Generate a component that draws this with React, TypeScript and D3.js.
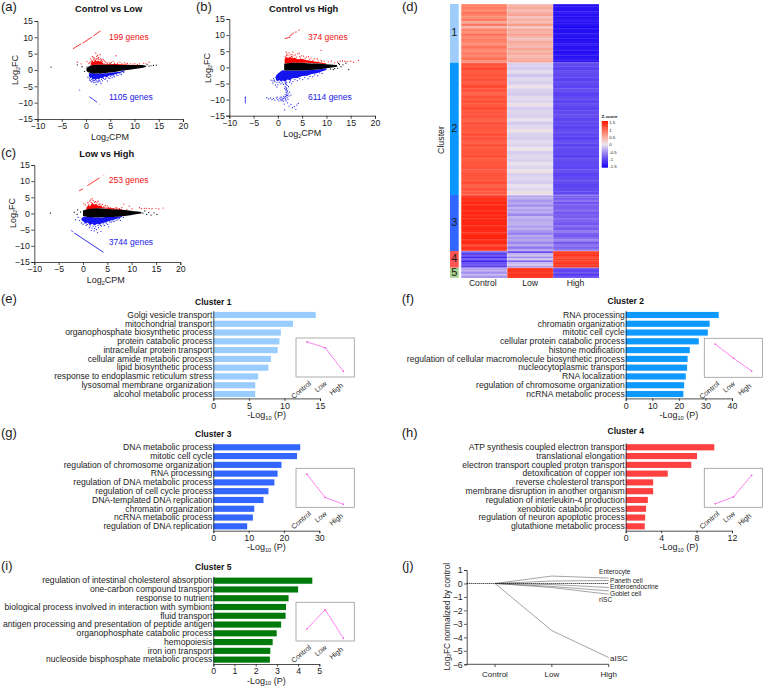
import React, { useEffect, useRef } from "react";
import * as d3 from "d3";

type P = number[];
const FONT = "'Liberation Sans', Arial, sans-serif";

// ---------- MA plots (a, b, c): each band row is [log2CPM, low FC, high FC]
const maBlackA: P[] = [[0.1,-0.3,0.5],[0.5,-0.7,1],[1,-1,1.4],[2,-1.1,1.6],[4,-0.9,1.6],[6,-0.6,1.6],[8,-0.1,1.5],[10,0.3,1.5],[11.5,0.6,1.5],[12.3,0.9,1.3]];
const maBlueA: P[] = [[0.6,-0.9,-1.8],[0.9,-1,-2.6],[1.1,-1,-2.2],[1.4,-1,-3],[1.7,-1,-2.7],[2,-1.1,-3.1],[2.3,-1.1,-2.6],[2.6,-1.1,-2.9],[3,-1.1,-2.4],[3.4,-1.1,-2.5],[3.8,-1,-2],[4.3,-1,-2.2],[4.8,-0.9,-1.7],[5.4,-0.8,-1.7],[6,-0.7,-1.3],[7,-0.5,-0.9],[8,-0.1,-0.4]];
const maRedA: P[] = [[1,1.3,2],[1.3,1.5,2.8],[1.6,1.5,2.4],[1.9,1.6,3.1],[2.2,1.6,2.6],[2.5,1.6,3],[2.8,1.6,2.5],[3.1,1.6,2.8],[3.5,1.6,2],[4.5,1.6,1.8],[6,1.5,1.8],[9,1.4,1.6]];
const redDotsA: P[] = [[-1.8,2.4],[-1,1.9],[0.2,2.6],[1,3.4],[1.3,4.1],[1.8,3.6],[2,5.2],[2.2,4.2],[2.6,3.8],[2.9,4.7],[3,3.4],[2.5,3.6],[3.8,2.7],[4.4,2.1],[5.2,2.3],[6.2,4.4],[6.5,2.1],[7.4,1.9],[7.9,2.2],[8.5,2],[9.2,1.9],[10.1,1.9],[11,1.9],[11.9,2.1],[12.4,1.9],[13,2.4],[0.8,2.4],[1.6,3.3],[3.4,2.5],[1.2,2.9],[2.3,3.5],[3.2,2.9],[5.6,2.6],[4.8,2.2],[0.6,2],[1.5,3.9],[2.7,3.2],[3.6,3.1],[4.1,2.4],[1.1,2.5],[2.1,3.3],[3.3,3.3],[5,2],[5.9,2],[7,2.4],[8.2,1.8],[9.7,1.8],[10.6,1.7],[2.4,4.5],[1.7,2.9]];
const blueDotsA: P[] = [[0.4,-2.2],[0.8,-3.1],[1.1,-3.6],[1.6,-3.9],[2.1,-4.5],[2.3,-3.7],[2.9,-3.6],[3.4,-3.3],[3.9,-2.9],[4.4,-3.4],[4.9,-2.6],[5.4,-2.3],[5.9,-2.1],[6.6,-1.7],[7.3,-1.4],[1.4,-3.4],[2.6,-3.3],[0.7,-2.7],[3.1,-4.2],[1.9,-3.7],[1.2,-2.9],[1.5,-3.2],[2.2,-3.3],[2.8,-3.1],[3.2,-2.8],[3.6,-2.6],[4.1,-2.5],[4.6,-2.4],[5.1,-2],[0.9,-3.3],[1.8,-3.2],[2.5,-3.6],[5.7,-1.8],[6.3,-1.5],[7,-1.2],[7.8,-0.8]];
const blackDotsA: P[] = [[-7.2,0.9],[-1.8,1.6],[-0.8,1],[-0.3,-0.4],[0.2,0.9],[12.6,1.6],[13,1.2],[13.4,1.3],[13.9,1.4],[14.5,1.5],[12.2,1.1]];
const redLineA: P[][] = [[[-2.7,6.5],[-1,8]],[[-0.7,8.2],[1.2,10.1]],[[1.5,10.4],[3,12]]];
const blueLineA: P[][] = [[[0.7,-8.2],[1.4,-8.9]],[[1.5,-9],[2.3,-9.9]],[[2.7,-10.4],[2.8,-10.5]],[[-1.4,-6.1],[-1.2,-6.3]]];

const maBlackB: P[] = [[1.3,-0.9,1.1],[2,-1,1.3],[4,-1,1.4],[6,-0.9,1.3],[8,-0.7,1.2],[10,-0.3,1],[11.5,0,0.8],[12.2,0.2,0.6]];
const maBlueB: P[] = [[-0.4,-2.6,-3.9],[0,-1.9,-4.3],[0.3,-1.6,-3.9],[0.7,-1.1,-4.5],[1,-0.9,-4.1],[1.5,-1,-4.4],[2,-1,-3.8],[2.5,-1,-4],[3,-1,-3.4],[4,-1,-3.3],[5,-1,-2.7],[6,-0.9,-2.6],[7,-0.8,-2.1],[8,-0.7,-1.8],[9,-0.5,-1.3],[10,-0.3,-0.8]];
const maRedB: P[] = [[1.4,1.1,2.6],[1.7,1.2,3.3],[2.1,1.3,2.9],[2.5,1.3,3.3],[3,1.4,2.8],[3.5,1.4,3],[4,1.4,2.5],[5,1.4,2.6],[6,1.4,2.2],[7,1.3,2],[8.5,1.2,1.6],[10,1,1.2]];
const redDotsB: P[] = [[1.7,4.8],[1.9,4.2],[2.3,4.5],[2.9,4],[3.1,4.8],[3.6,3.9],[4.1,4.2],[4.4,4.4],[4.9,3.6],[5.3,3.5],[5.9,3.2],[6.3,3.3],[6.8,2.9],[7.5,2.6],[8.1,2.6],[8.9,5.3],[8.9,2.2],[9.5,1.9],[10.4,1.7],[11,1.9],[11.7,1.4],[12.3,1.6],[12.8,1.9],[13.3,2],[13.8,1.9],[14.3,1.8],[15,1.9],[15.6,1.6],[16.6,2.2],[4.5,3.3],[2.5,3.9],[3.3,3.6],[1.5,3.3],[2.1,3.6],[2.8,3.4],[3.8,3.2],[4.7,2.9],[5.6,2.9],[6.5,2.5],[7.2,2.2],[8.3,2],[9,1.7],[1.8,3.7],[3,3.2]];
const blueDotsB: P[] = [[-6.7,-9.3],[-6.7,-9.8],[-6.7,-10.2],[-6.7,-10.6],[-6.7,-11],[-2.3,-9.4],[-1.9,-9.8],[-1.5,-9.5],[-1.2,-10],[-0.9,-9.6],[-0.6,-10.2],[-0.3,-9.5],[0,-9.9],[0.2,-10.4],[0.4,-9.6],[0.6,-10],[0.8,-9.3],[1,-10.1],[1.2,-9.6],[1.4,-9.2],[1.6,-10],[1.8,-8.8],[1.9,-9.4],[2.1,-9.9],[2.3,-8.9],[1.3,-11.4],[1.4,-13.2],[2,-11],[2.3,-12],[2.7,-11.5],[3,-12.5],[3.4,-12.2],[3.7,-13],[3.9,-11.7],[4.2,-11.2],[1.5,-4.6],[1.7,-5.3],[1.5,-6],[1.8,-6.5],[1.6,-7],[2,-7.3],[1.7,-7.8],[2.1,-8.2],[1.5,-8.5],[2.4,-7.7],[2.7,-8.6],[-1.4,-4],[-1,-4.9],[-0.5,-5.5],[0,-5.4],[0.6,-5.1],[1.2,-5.3],[2.4,-4.6],[3.1,-4.4],[4,-4.1],[5.1,-3.8],[6.2,-3.5],[7.2,-2.9],[8.2,-2.6],[9.1,-1.9],[-0.2,-6.1],[2.8,-5.1],[1.6,-5],[1.9,-5.6],[1.7,-6.3],[1.8,-7],[1.9,-7.6],[1.8,-8.3],[2,-8.7],[1.6,-9],[1.2,-9],[0.9,-9.8],[0.5,-9.2],[1.5,-9.6],[1.7,-10.4],[1.1,-10.5],[0.7,-10.4],[-0.1,-9.2],[-1,-4.2],[-0.6,-4.4],[-0.2,-4.7],[0.3,-4.6],[0.9,-4.8],[1.8,-4.6],[2.6,-4.2],[3.5,-3.8],[4.5,-3.5],[5.5,-3.1],[6.6,-2.8],[7.6,-2.3],[8.6,-1.7],[-0.9,-3.5],[-0.5,-3.1],[-0.7,-4],[2.2,-6],[1.4,-6.6]];
const blackDotsB: P[] = [[10.8,-0.5],[11.2,0.3],[11.7,-0.4],[12,0.6],[12.3,-0.3],[12.7,0.9],[13,0.2],[13.4,0.8],[14,1.3],[14.6,-0.7],[12.5,1.2],[11.4,-0.7]];
const redLineB: P[][] = [[[1.4,8.9],[2.6,9.4]],[[2.4,9.7],[3.3,10.7]],[[3.5,10.9],[3.9,11]],[[4.2,11.3],[4.5,11.8]]];
const blueLineB: P[][] = [[[-6.7,-9.1],[-6.7,-9.6]]];

const maBlackC: P[] = [[0,-0.8,0.9],[1,-1.1,1.4],[3,-1.2,1.6],[5,-1.1,1.4],[7,-1,1.2],[9,-0.7,1],[10.5,-0.3,0.7],[12,0,0.5]];
const maBlueC: P[] = [[-0.3,-1.4,-2.1],[0.2,-1,-2.6],[0.6,-1,-3.1],[1,-1.1,-2.8],[1.4,-1.1,-3.6],[1.9,-1.1,-3.2],[2.4,-1.2,-3.7],[2.9,-1.2,-3.2],[3.4,-1.2,-3.4],[4,-1.2,-2.9],[4.6,-1.1,-2.8],[5.2,-1.1,-2.4],[6,-1,-2.1],[7,-1,-1.6],[8,-0.8,-1.1]];
const maRedC: P[] = [[0.7,1.2,1.8],[1.1,1.3,2.6],[1.5,1.4,2.3],[1.9,1.5,3.3],[2.3,1.5,2.7],[2.7,1.5,3],[3.1,1.6,2.4],[3.6,1.6,2.5],[4,1.6,1.9],[6,1.3,1.6],[8,1.1,1.3]];
const redDotsC: P[] = [[0.2,3],[0.5,2.6],[1,3.4],[1.4,3.8],[1.9,4.6],[2.1,4],[2.6,3.7],[3.1,3.8],[3.5,3],[4,2.8],[4.6,2.5],[5,2.3],[5.6,1.9],[6.2,1.6],[7,1.7],[8.4,2.9],[8,1.8],[9.5,2.3],[10.1,1.4],[11.6,1.8],[12,1.5],[12.6,1.6],[13,1.6],[13.6,1.5],[14.2,1.5],[15,1.6],[15.6,1.4],[16.5,1.7],[1.2,2.9],[1.7,3.4],[2.4,3.5],[2.9,3.3],[3.3,2.8],[3.8,2.3],[4.3,2.1],[5.2,1.9],[6.8,1.8],[7.5,1.5],[9,1.2],[1.6,4.2]];
const blueDotsC: P[] = [[-1.5,-1.9],[-1,-1.2],[-0.7,-2.2],[-0.3,-2.9],[0,-3.3],[0.7,-3.7],[1.3,-4.4],[1.9,-4.5],[2.4,-4.7],[2.8,-5],[3,-5.9],[3.2,-4.4],[3.8,-3.9],[4.4,-3.7],[5.1,-3.4],[5.3,-4.1],[5.8,-2.7],[6.4,-2.5],[7.2,-1.9],[7.7,-2.1],[1.7,-5.2],[2.3,-5.4],[3.7,-5.5],[0.4,-3],[0.9,-3.4],[1.5,-3.9],[2.1,-3.9],[2.6,-4.1],[3.1,-3.7],[3.6,-3.6],[4.2,-3.2],[4.8,-3],[5.5,-2.6],[6.2,-2.3],[6.8,-2.1],[7.5,-1.5],[8.3,-1.2]];
const blackDotsC: P[] = [[-6.7,0.1],[-1.8,0.4],[-1.1,1.1],[-1.2,-0.3],[-0.5,0.5],[12.3,0.1],[12.7,0.8],[13.1,-0.3],[13.5,0.3],[14,-0.5],[14.6,0.2],[15.2,-0.3]];
const redLineC: P[][] = [[[-0.8,7],[0,7.6]],[[0.9,8.6],[3.4,11]],[[4.2,11.8],[4.3,12]]];
const blueLineC: P[][] = [[[-2.4,-5.3],[-2.1,-5.6]],[[-1.8,-6],[4.2,-12]]];

// ---------- Heatmap (d): z-scores per row, one list per column
const c1Control = [0.8,0.85,0.75,0.9,0.8,0.7,0.85,0.5,0.85,0.4,0.8,0.7,0.9,0.75,0.85,0.8,0.7,0.9,0.8,0.75,0.85,0.8,0.9,0.7];
const c1Low = [0.4,0.5,0.35,0.45,0.55,0.3,0.45,0.35,0.6,0.25,0.5,0.4,0.55,0.4,0.3,0.5,0.45,0.35,0.55,0.4,0.5,0.35,0.45,0.55];
const c1High = [-1.4,-1.35,-1.38,-1.3,-1.36,-1.4,-1.3,-1.38,-1.35,-1.42,-1.36,-1.4,-1.33,-1.38,-1.4,-1.36,-1.3,-1.38,-1.35,-1.4,-1.33,-1.36,-1.32,-1.35];
const c2Control = [1.1,1.15,1.05,1.1,1.12,1.05,1.15,1.1,1,1.1,1.12,1.05,1.15,1.08,1.1,1.02,1.12,1.1,1.06,1.14,1.1,1.03,1.12,1.08,1.1,1.14,1.05,1.1,1.12,1.04,1.1,1.08,1.14,1.02,1.1,1.06];
const c2Low = [-0.12,-0.15,-0.05,-0.18,-0.08,-0.13,0.03,-0.12,-0.16,-0.07,-0.1,0.05,-0.14,-0.09,-0.13,-0.02,-0.16,-0.08,0.05,-0.12,-0.14,-0.06,-0.1,0.02,-0.14,-0.08,-0.12,-0.03,-0.1,0.04,-0.12,-0.08,-0.14,-0.02,-0.08,0.06];
const c2High = [-0.95,-1,-0.9,-0.96,-1,-0.92,-0.98,-0.9,-1.02,-0.94,-0.98,-0.92,-1,-0.95,-0.9,-0.98,-0.94,-1,-0.92,-0.96,-1.02,-0.9,-0.98,-0.94,-0.96,-1,-0.92,-0.96,-0.98,-0.9,-1,-0.95,-0.92,-0.98,-0.94,-0.96];
const c3Control = [1.3,1.35,1.28,1.4,1.32,1.38,1.35,1.42,1.3,1.4,1.36,1.38,1.42,1.35,1.4,1.36,1.3,1.4,1.42,1.3,1.38,1.15,1.35,1.25];
const c3Low = [-0.35,-0.3,-0.45,-0.35,-0.5,-0.3,-0.4,-0.35,-0.55,-0.28,-0.38,-0.32,-0.3,-0.42,-0.3,-0.45,-0.6,-0.35,-0.45,-0.38,-0.55,-0.35,-0.65,-0.4];
const c3High = [-0.75,-0.8,-0.65,-0.85,-0.75,-0.8,-0.7,-0.85,-0.75,-0.8,-0.7,-0.78,-0.85,-0.7,-0.8,-0.6,-0.75,-0.82,-0.7,-0.55,-0.8,-0.65,-0.75,-0.6];
const c4Control = [-0.7,-1,-0.8,-1.2,-0.75,-1.25,-0.9,-0.8,-1];
const c4Low = [-1,-0.3,-0.2,-0.5,-0.15,-0.7,-0.25,-0.15,-0.4];
const c4High = [1.25,1.2,1.3,1.15,1.25,1.2,1.3,1.15,1.25];
const c5Control = [-0.4,-0.3,-0.5,-0.25,-0.45];
const c5Low = [1.25,1.3,1.2,1.3,1.25];
const c5High = [-0.85,-1,-0.8,-1.05,-0.85];
const heatColumns = ["Control", "Low", "High"];
const heatClusters = [
  { name: "1", color: "#9fcdfb", cols: [c1Control, c1Low, c1High], frac: 176 },
  { name: "2", color: "#0a96ff", cols: [c2Control, c2Low, c2High], frac: 397 },
  { name: "3", color: "#3366ff", cols: [c3Control, c3Low, c3High], frac: 168 },
  { name: "4", color: "#ff5555", cols: [c4Control, c4Low, c4High], frac: 50 },
  { name: "5", color: "#a5d28c", cols: [c5Control, c5Low, c5High], frac: 30 },
];
const zTicks = [1.5, 1, 0.5, 0, -0.5, -1, -1.5];

// ---------- Enrichment panels (e-i)
const terms1 = ["Golgi vesicle transport","mitochondrial transport","organophosphate biosynthetic process","protein catabolic process","intracellular protein transport","cellular amide metabolic process","lipid biosynthetic process","response to endoplasmic reticulum stress","lysosomal membrane organization","alcohol metabolic process"];
const vals1 = [14.4,11.2,9.5,9.3,9.05,8.1,7.75,6.3,5.9,5.9];
const trend1 = [0.9,0.75,0.145];
const terms2 = ["RNA processing","chromatin organization","mitotic cell cycle","cellular protein catabolic process","histone modification","regulation of cellular macromolecule biosynthetic process","nucleocytoplasmic transport","RNA localization","regulation of chromosome organization","ncRNA metabolic process"];
const vals2 = [35,31.6,30.9,27.5,24.1,23.3,23.1,22.6,22,21.7];
const trend2 = [0.85,0.49,0.16];
const terms3 = ["DNA metabolic process","mitotic cell cycle","regulation of chromosome organization","RNA processing","regulation of DNA metabolic process","regulation of cell cycle process","DNA-templated DNA replication","chromatin organization","ncRNA metabolic process","regulation of DNA replication"];
const vals3 = [24.6,23.7,19.3,18.2,17.3,15.6,14.2,11.6,11.2,9.6];
const trend3 = [0.85,0.25,0.08];
const terms4 = ["ATP synthesis coupled electron transport","translational elongation","electron transport coupled proton transport","detoxification of copper ion","reverse cholesterol transport","membrane disruption in another organism","regulation of interleukin-4 production","xenobiotic catabolic process","regulation of neuron apoptotic process","glutathione metabolic process"];
const vals4 = [10,8.05,7.4,4.75,3.1,3.1,2.5,2.3,2.2,2.15];
const trend4 = [0.09,0.265,0.82];
const terms5 = ["regulation of intestinal cholesterol absorption","one-carbon compound transport","response to nutrient","biological process involved in interaction with symbiont","fluid transport","antigen processing and presentation of peptide antigen","organophosphate catabolic process","hemopoiesis","iron ion transport","nucleoside bisphosphate metabolic process"];
const vals5 = [4.67,4,3.55,3.43,3.41,3.2,2.99,2.8,2.69,2.67];
const trend5 = [0.31,0.81,0.07];
const doses = ["Control", "Low", "High"];

// ---------- Cell types (j)
const cellDoses = ["Control", "Low", "High"];
const enterocyte = [0, 0.55, 0.4];
const paneth = [0, 0.18, 0.22];
const enteroendocrine = [0, -0.08, -0.3];
const goblet = [0, -0.22, -0.55];
const rISC = [0, -0.3, -0.8];
const aISC = [0, -3.5, -5.5];

// ---------- helpers
function Ax({ axis, x = 0, y = 0, size = 8.8, noDomain = false }: any) {
  const ref = useRef<SVGGElement>(null);
  useEffect(() => {
    const g = d3.select(ref.current!);
    g.call(axis);
    g.selectAll("text").attr("font-size", size).attr("font-family", FONT).attr("fill", "#1c1c1c");
    g.selectAll("path,line").attr("stroke", "#222").attr("stroke-width", 0.8);
    if (noDomain) g.select(".domain").remove();
  });
  return <g ref={ref} transform={`translate(${x},${y})`} />;
}

function Sub({ x, y, pre, sub, post, size = 9, anchor = "middle", rotate, bold }: any) {
  return (
    <text x={x} y={y} fontSize={size} fontFamily={FONT} textAnchor={anchor} fill="#1c1c1c" dominantBaseline="middle"
      transform={rotate ? `rotate(${rotate} ${x} ${y})` : undefined} fontWeight={bold ? "bold" : undefined}>
      {pre}<tspan fontSize={size * 0.62} dy={size * 0.28}>{sub}</tspan><tspan dy={-size * 0.28}>{post}</tspan>
    </text>
  );
}

function Label({ x, y, children, size = 13 }: any) {
  return <text x={x} y={y} fontSize={size} fontFamily={FONT} fill="#1c1c1c" dominantBaseline="middle">{children}</text>;
}

function MAPlot({ x0, x1, yt, yb, title, titleX, titleY, redText, blueText, textX, redY, blueY, yLabX, yLabY, xLabX, xLabY, black, blue, red, redDots, blueDots, blackDots, redLine, blueLine }: any) {
  const x = d3.scaleLinear().domain([-10, 20]).range([x0, x1]);
  const y = d3.scaleLinear().domain([-15, 15]).range([yb, yt]);
  const band = d3.area<P>().x((d) => x(d[0])).y0((d) => y(d[1])).y1((d) => y(d[2])).curve(d3.curveLinear);
  const blackBand = d3.area<P>().x((d) => x(d[0])).y0((d) => y(d[1])).y1((d) => y(d[2])).curve(d3.curveMonotoneX);
  const seg = d3.line<P>().x((d) => x(d[0])).y((d) => y(d[1]));
  const dots = (pts: P[], fill: string) => pts.map((d, i) => <circle key={i} cx={x(d[0])} cy={y(d[1])} r={0.62} fill={fill} />);
  return (
    <g>
      <Ax axis={d3.axisLeft(y).tickValues([-15, -10, -5, 0, 5, 10, 15]).tickSize(3).tickPadding(1.5)} x={x0} />
      <Ax axis={d3.axisBottom(x).tickValues([-10, -5, 0, 5, 10, 15, 20]).tickSize(3).tickPadding(1)} y={yb} />
      <path d={band(red)!} fill="#ff0000" />
      <path d={band(blue)!} fill="#1414f0" />
      {dots(redDots, "#ff1010")}
      {dots(blueDots, "#2222f0")}
      <path d={blackBand(black)!} fill="#000" />
      {dots(blackDots, "#000")}
      {redLine.map((s: P[], i: number) => <path key={i} d={seg(s)!} stroke="#ff2020" strokeWidth={0.9} fill="none" />)}
      {blueLine.map((s: P[], i: number) => <path key={i} d={seg(s)!} stroke="#1a1ae6" strokeWidth={0.9} fill="none" />)}
      <text x={titleX} y={titleY} fontSize={9.3} fontWeight="bold" fontFamily={FONT} textAnchor="middle" dominantBaseline="middle" fill="#111">{title}</text>
      <text x={textX} y={redY} fontSize={8.5} fontFamily={FONT} fill="#ee1111" dominantBaseline="middle">{redText}</text>
      <text x={textX} y={blueY} fontSize={8.5} fontFamily={FONT} fill="#1a1ae6" dominantBaseline="middle">{blueText}</text>
      <Sub x={yLabX} y={yLabY} pre="Log" sub="2" post="FC" rotate={-90} />
      <Sub x={xLabX} y={xLabY} pre="Log" sub="2" post="CPM" />
    </g>
  );
}

function BarPanel({ title, titleY, terms, vals, color, x0, xMax, ticks, pxMax, top, bottom, labelY, insetX, insetY, insetH, trend }: any) {
  const x = d3.scaleLinear().domain([0, xMax]).range([x0, pxMax]);
  const y = d3.scaleBand<string>().domain(terms).range([top, bottom]).paddingInner(0.3).paddingOuter(0.15);
  const ix = d3.scalePoint<string>().domain(doses).range([insetX, insetX + 58.3]).padding(0.6);
  const iy = d3.scaleLinear().domain([0, 1]).range([insetY + insetH, insetY]);
  const line = d3.line<number>().x((_, i) => ix(doses[i])!).y((d) => iy(d));
  return (
    <g>
      <text x={x0} y={titleY} fontSize={8.5} fontWeight="bold" fontFamily={FONT} textAnchor="middle" dominantBaseline="middle" fill="#111">{title}</text>
      {terms.map((t: string, i: number) => (
        <rect key={t} x={x(0)} y={y(t)!} width={x(vals[i]) - x(0)} height={y.bandwidth()} fill={color} />
      ))}
      <Ax axis={d3.axisLeft(y).tickSize(0).tickPadding(1)} x={x0} size={8.6} />
      <Ax axis={d3.axisBottom(x).tickValues(ticks).tickFormat(d3.format("d")).tickSize(2.5).tickPadding(1.5)} y={bottom} />
      <Sub x={(x0 + pxMax) / 2} y={labelY} pre="-Log" sub="10" post=" (P)" />
      <rect x={insetX} y={insetY} width={58.3} height={insetH} fill="#fff" stroke="#999" strokeWidth={0.8} />
      <path d={line(trend)!} fill="none" stroke="#ff66ee" strokeWidth={0.8} />
      {trend.map((d: number, i: number) => <circle key={i} cx={ix(doses[i])!} cy={iy(d)} r={0.8} fill="#ee44dd" />)}
      {doses.map((d) => {
        const tx = ix(d)! + (d === "Control" ? 1 : d === "High" ? -3.5 : -1.5);
        const ty = insetY + insetH + 3 + (d === "High" ? 2 : 0);
        return <text key={d} x={tx} y={ty} fontSize={7.2} fontFamily={FONT} textAnchor="end" fill="#1c1c1c" dominantBaseline="hanging"
          transform={`rotate(-40 ${tx} ${ty})`}>{d}</text>;
      })}
    </g>
  );
}

function Heatmap() {
  const left = 461.3, right = 599, top = 4, bottom = 277.7;
  const xb = d3.scaleBand<string>().domain(heatColumns).range([left, right]);
  const color = d3.scaleLinear<string>().domain([-1.5, -0.75, 0, 0.75, 1.5]).range(["#1500f5", "#7d62f0", "#ece6ee", "#ff8a70", "#ff1400"]);
  const total = d3.sum(heatClusters, (c) => c.frac);
  const yc = d3.scaleLinear().domain([0, total]).range([top, bottom]);
  const offs = d3.cumsum(heatClusters.map((c) => c.frac));
  const zy = d3.scaleLinear().domain([1.5, -1.5]).range([123.3, 167]);
  return (
    <g>
      <defs>
        <linearGradient id="zg" x1="0" x2="0" y1="0" y2="1">
          {zTicks.map((z, i) => <stop key={z} offset={`${(i / 6) * 100}%`} stopColor={color(z)} />)}
        </linearGradient>
      </defs>
      {heatClusters.map((c, k) => {
        const y0 = yc(k === 0 ? 0 : offs[k - 1]);
        const y1 = yc(offs[k]);
        const rows = d3.range(c.cols[0].length);
        const ry = d3.scaleBand<number>().domain(rows).range([y0, y1]);
        return (
          <g key={c.name}>
            <rect x={450} y={y0} width={8.7} height={y1 - y0} fill={c.color} />
            <text x={454.3} y={(y0 + y1) / 2} fontSize={11} fontFamily={FONT} textAnchor="middle" dominantBaseline="middle" fill="#1c1c1c">{c.name}</text>
            {c.cols.map((col, j) =>
              col.map((z, i) => (
                <rect key={`${j}-${i}`} x={xb(heatColumns[j])!} y={ry(i)!} width={xb.bandwidth()} height={ry.bandwidth() + 0.3} fill={color(z)} />
              ))
            )}
            <line x1={left} x2={right} y1={y0} y2={y0} stroke="#fff" strokeOpacity={0.6} strokeWidth={0.6} />
          </g>
        );
      })}
      <line x1={xb("Low")!} x2={xb("Low")!} y1={top} y2={bottom} stroke="#fff" strokeOpacity={0.5} strokeWidth={0.5} />
      <line x1={xb("High")!} x2={xb("High")!} y1={top} y2={bottom} stroke="#fff" strokeOpacity={0.3} strokeWidth={0.5} />
      {heatColumns.map((c) => (
        <text key={c} x={xb(c)! + xb.bandwidth() / 2 + (c === "Control" ? -1.5 : c === "High" ? -0.5 : 0)} y={283.7} fontSize={8.6} fontFamily={FONT} textAnchor="middle" dominantBaseline="middle" fill="#1c1c1c">{c}</text>
      ))}
      <text x={442} y={140} fontSize={8.8} fontFamily={FONT} textAnchor="middle" dominantBaseline="middle" fill="#1c1c1c" transform="rotate(-90 442 140)">Cluster</text>
      <text x={601.5} y={117.3} fontSize={4.4} fontWeight="bold" fontFamily={FONT} dominantBaseline="middle" fill="#111">Z-score</text>
      <rect x={601.7} y={121} width={6.3} height={46.7} fill="url(#zg)" />
      {zTicks.map((z) => (
        <text key={z} x={609.2} y={zy(z)} fontSize={4.4} fontFamily={FONT} dominantBaseline="middle" fill="#222">{z}</text>
      ))}
    </g>
  );
}

function CellPanel() {
  const x = d3.scalePoint<string>().domain(cellDoses).range([495, 608.7]);
  const y = d3.scaleLinear().domain([-6, 1]).range([664.3, 570]);
  const line = d3.line<number>().x((_, i) => x(cellDoses[i])!).y((d) => y(d));
  const series = [enterocyte, paneth, enteroendocrine, goblet, rISC, aISC];
  const labels: [string, number, number, number][] = [
    ["Enterocyte", 599, 572.7, 6.6], ["Paneth cell", 610, 581, 6.6], ["Enteroendocrine", 610, 587.7, 6.6],
    ["Goblet cell", 610, 593.9, 6.6], ["rISC", 599, 600.3, 6.6], ["aISC", 610, 659.3, 8],
  ];
  return (
    <g>
      <Ax axis={d3.axisLeft(y).tickValues([1, 0, -1, -2, -3, -4, -5, -6]).tickSize(2.5).tickPadding(1.5).tickFormat(d3.format("d"))} x={466.7} />
      <line x1={466.7} x2={608.7} y1={664.3} y2={664.3} stroke="#222" strokeWidth={0.8} />
      {cellDoses.map((d) => <line key={d} x1={x(d)!} x2={x(d)!} y1={664.3} y2={667} stroke="#222" strokeWidth={0.8} />)}
      {cellDoses.map((d) => <text key={d} x={x(d)!} y={674.5} fontSize={8} fontFamily={FONT} textAnchor="middle" dominantBaseline="middle" fill="#1c1c1c">{d}</text>)}
      {series.map((s, i) => <path key={i} d={line(s)!} fill="none" stroke="#666" strokeWidth={0.6} />)}
      <line x1={466.7} x2={608.7} y1={y(0)} y2={y(0)} stroke="#000" strokeWidth={1} strokeDasharray="1 1" />
      {labels.map(([t, lx, ly, s]) => <text key={t} x={lx} y={ly} fontSize={s} fontFamily={FONT} dominantBaseline="middle" fill="#1c1c1c">{t}</text>)}
      <Sub x={447.7} y={616.7} pre="Log" sub="2" post="FC normalized by control" rotate={-90} size={8.2} />
    </g>
  );
}

export default function App() {
  return (
    <svg width={763} height={686} style={{ position: "absolute", left: 0, top: 0, background: "#fff" }}>
      <Label x={1} y={7.5}>(a)</Label>
      <Label x={196} y={8}>(b)</Label>
      <Label x={1} y={154}>(c)</Label>
      <Label x={402} y={7.5}>(d)</Label>
      <Label x={1} y={300}>(e)</Label>
      <Label x={401.7} y={300}>(f)</Label>
      <Label x={1} y={434}>(g)</Label>
      <Label x={401.7} y={434}>(h)</Label>
      <Label x={1} y={566.7}>(i)</Label>
      <Label x={402} y={566.7}>(j)</Label>

      <MAPlot x0={37.5} x1={183} yt={21} yb={119} title="Control vs Low" titleX={108.7} titleY={10} redText="199 genes" blueText="1105 genes" textX={109} redY={37.7} blueY={98}
        yLabX={16} yLabY={70} xLabX={110} xLabY={137.7} black={maBlackA} blue={maBlueA} red={maRedA} redDots={redDotsA} blueDots={blueDotsA} blackDots={blackDotsA} redLine={redLineA} blueLine={blueLineA} />
      <MAPlot x0={229.3} x1={375} yt={19} yb={115.7} title="Control vs High" titleX={303.7} titleY={9.3} redText="374 genes" blueText="6114 genes" textX={308} redY={37.7} blueY={98}
        yLabX={208.3} yLabY={68} xLabX={302.3} xLabY={134.3} black={maBlackB} blue={maBlueB} red={maRedB} redDots={redDotsB} blueDots={blueDotsB} blackDots={blackDotsB} redLine={redLineB} blueLine={blueLineB} />
      <MAPlot x0={34.3} x1={180.3} yt={165} yb={262} title="Low vs High" titleX={106.7} titleY={154.7} redText="253 genes" blueText="3744 genes" textX={108.7} redY={180.7} blueY={242.7}
        yLabX={13.3} yLabY={213} xLabX={105.7} xLabY={281} black={maBlackC} blue={maBlueC} red={maRedC} redDots={redDotsC} blueDots={blueDotsC} blackDots={blackDotsC} redLine={redLineC} blueLine={blueLineC} />

      <Heatmap />

      <BarPanel title="Cluster 1" titleY={302.7} terms={terms1} vals={vals1} color="#99ccff" x0={213.3} xMax={15} ticks={[0,5,10,15]} pxMax={320} top={310.6} bottom={398.4} labelY={416} insetX={296} insetY={338} insetH={39} trend={trend1} />
      <BarPanel title="Cluster 2" titleY={302} terms={terms2} vals={vals2} color="#0d99ff" x0={625.7} xMax={40} ticks={[0,10,20,30,40]} pxMax={732} top={310.6} bottom={398.4} labelY={416} insetX={704.3} insetY={338.3} insetH={39} trend={trend2} />
      <BarPanel title="Cluster 3" titleY={434.7} terms={terms3} vals={vals3} color="#3366ff" x0={213.3} xMax={30} ticks={[0,10,20,30]} pxMax={319.3} top={442.9} bottom={530.7} labelY={548} insetX={296} insetY={468.3} insetH={39} trend={trend3} />
      <BarPanel title="Cluster 4" titleY={431.3} terms={terms4} vals={vals4} color="#ff4040" x0={625.7} xMax={12} ticks={[0,4,8,12]} pxMax={732} top={442.9} bottom={530.7} labelY={548} insetX={704.3} insetY={468.3} insetH={39} trend={trend4} />
      <BarPanel title="Cluster 5" titleY={567.3} terms={terms5} vals={vals5} color="#007a0a" x0={213.3} xMax={5} ticks={[0,1,2,3,4,5]} pxMax={319.3} top={576.3} bottom={664} labelY={681.5} insetX={296} insetY={602.3} insetH={38.7} trend={trend5} />

      <CellPanel />
    </svg>
  );
}
